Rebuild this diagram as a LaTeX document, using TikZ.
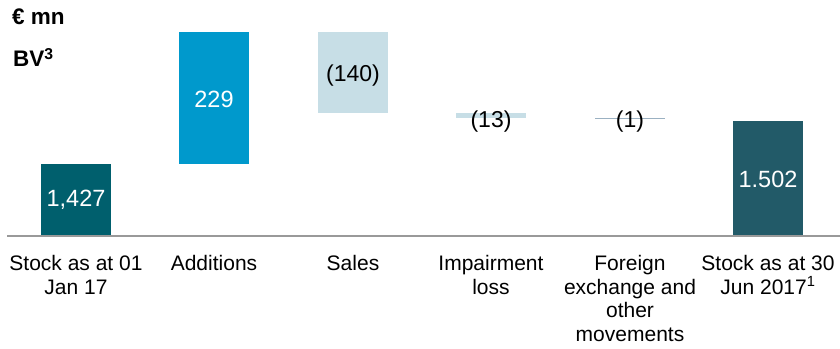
\documentclass[tikz,border=0pt]{standalone}
\usepackage{fontspec}
\setmainfont{Liberation Sans}
\usepackage{xcolor}
\usetikzlibrary{calc}

\definecolor{stockA}{HTML}{005F6D}
\definecolor{addBlue}{HTML}{0099CC}
\definecolor{salesBlue}{HTML}{C7DEE6}
\definecolor{stockB}{HTML}{225A68}
\definecolor{fxLine}{HTML}{9BB1C2}
\definecolor{axisGray}{HTML}{999999}

\tikzset{
  inval/.style={text=white,font=\fontsize{23.5}{27}\selectfont,inner sep=0pt},
  outval/.style={text=black,font=\fontsize{23}{27}\selectfont,inner sep=0pt},
  catlabel/.style={anchor=north,align=center,inner sep=0pt,
    font=\fontsize{21}{23.7}\selectfont},
  headlabel/.style={anchor=base west,inner sep=0pt,
    font=\bfseries\fontsize{22.5}{26}\selectfont}
}

\begin{document}
\begin{tikzpicture}[x=1pt,y=1pt]
			\useasboundingbox (0,0) rectangle (840,348);
			% bars
			\fill[stockA] (41,112) rectangle (111,184);
			\fill[addBlue] (179,184) rectangle (249,316);
			\fill[salesBlue] (318,235) rectangle (388,316);
			\fill[salesBlue] (456,230) rectangle (526,235);
			\draw[fxLine,line width=0.8pt] (595,230) -- (665,230);
			\fill[stockB] (733,112) rectangle (803,227);
			% axis
			\coordinate (axL) at (7,112);
			\coordinate (axR) at (840,112);
			\draw[axisGray,line width=2pt] (axL) -- (axR);
			% values
			\node[inval] (v1) at (76,148) {1,427};
			\node[inval] (v2) at (214,249) {229};
			\node[outval] (v3) at (353,272) {(140)};
			\node[outval] (v4) at (491,226) {(13)};
			\node[outval] (v5) at (630,226) {(1)};
			\node[inval] (v6) at (768,169) {1.502};
			% categories
			\node[catlabel] (l1) at (76,93) {Stock as at 01\\Jan 17};
			\node[catlabel] (l2) at (214,93) {Additions};
			\node[catlabel] (l3) at (353,93) {Sales};
			\node[catlabel] (l4) at (491,93) {Impairment\\loss};
			\node[catlabel] (l5) at (630,93) {Foreign\\exchange and\\other\\movements};
			\node[catlabel] (l6) at (768,93) {Stock as at 30\\Jun 2017\textsuperscript{1}};
			% headings
			\node[headlabel] (unit) at (12,323) {€ mn};
			\node[headlabel] (bv) at (13,281) {BV\textsuperscript{3}};
		\end{tikzpicture}
\end{document}
